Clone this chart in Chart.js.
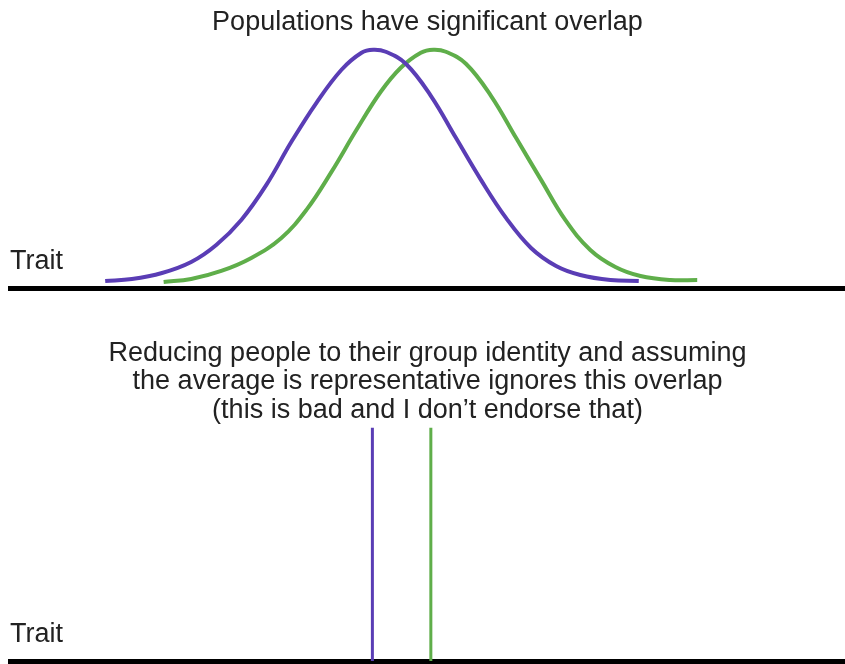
<!DOCTYPE html>
<html>
<head>
<meta charset="utf-8">
<title>Populations have significant overlap</title>
<script src="https://cdn.jsdelivr.net/npm/chart.js@4"></script>
<style>
    html, body { margin: 0; padding: 0; background: #fff; }
    .panel { position: relative; width: 845px; }
    #top-panel { height: 300px; }
    #bottom-panel { height: 364px; }
</style>
</head>
<body>
<div class="panel" id="top-panel"><canvas id="overlap-chart"></canvas></div>
<div class="panel" id="bottom-panel"><canvas id="average-chart"></canvas></div>
<script>
// Trait axis runs 0..100, frequency is in arbitrary units (0 = baseline)
const purpleTrait = [11.4, 14.6, 18.2, 21.7, 24.7, 27.7, 30.7, 33.7, 36.7, 39.7, 42.1, 43.5,
    45.0, 47.4, 50.4, 53.4, 56.4, 59.4, 62.4, 65.4, 68.3, 71.9, 75.3];
const purpleFreq = [7, 9, 15, 26, 43, 68, 103, 146, 185, 218, 235, 238,
    236, 224, 192, 150, 108, 70, 40, 22, 13, 8, 7];

const greenTrait = [18.4, 21.7, 25.3, 28.9, 32.5, 35.5, 38.5, 41.5, 44.4, 46.8, 49.2, 50.7,
    52.2, 54.6, 57.6, 60.6, 63.6, 66.5, 69.5, 72.5, 75.5, 79.1, 82.3];
const greenFreq = [6, 9, 17, 30, 50, 78, 116, 158, 196, 220, 235, 238,
    236, 224, 192, 150, 108, 68, 38, 21, 12, 8, 8];

// group averages shown in the lower panel
const groupMeans = [43.4, 50.4];
const groupColors = ['#5a3db5', '#5fae4a'];

const topTitle = 'Populations have significant overlap';
const bottomTitle = [
    'Reducing people to their group identity and assuming',
    'the average is representative ignores this overlap',
    '(this is bad and I don\u2019t endorse that)'
];
const axisLabel = 'Trait';

const FONT = '"Liberation Sans", Arial, Helvetica, sans-serif';
const TEXT_COLOR = '#222';

Chart.defaults.font.family = FONT;
Chart.defaults.color = TEXT_COLOR;

// writes "Trait" just above the baseline on the left
const traitLabel = {
    id: 'traitLabel',
    afterDraw(chart) {
        const ctx = chart.ctx;
        const area = chart.chartArea;
        ctx.save();
        ctx.font = '27px ' + FONT;
        ctx.fillStyle = TEXT_COLOR;
        ctx.textAlign = 'left';
        ctx.textBaseline = 'alphabetic';
        ctx.fillText(axisLabel, area.left, area.bottom - 19);
        ctx.restore();
    }
};

function toPoints(xs, ys) {
    return xs.map((x, i) => ({ x: x, y: ys[i] }));
}

function baseScales(yMax) {
    return {
        x: {
            type: 'linear',
            min: 0,
            max: 100,
            display: true,
            grid: { display: false, drawTicks: false },
            ticks: { display: false },
            border: { display: true, color: '#000', width: 5 }
        },
        y: {
            type: 'linear',
            min: 0,
            max: yMax,
            display: false
        }
    };
}

function initOverlapChart() {
    const ctx = document.getElementById('overlap-chart').getContext('2d');
    window.overlapChart = new Chart(ctx, {
        type: 'line',
        data: {
            datasets: [
                {
                    label: 'Group A',
                    data: toPoints(purpleTrait, purpleFreq),
                    borderColor: groupColors[0],
                    borderWidth: 4,
                    pointRadius: 0,
                    tension: 0.4,
                    fill: false
                },
                {
                    label: 'Group B',
                    data: toPoints(greenTrait, greenFreq),
                    borderColor: groupColors[1],
                    borderWidth: 4,
                    pointRadius: 0,
                    tension: 0.4,
                    fill: false
                }
            ]
        },
        options: {
            responsive: true,
            maintainAspectRatio: false,
            animation: false,
            layout: { padding: { left: 10, right: 0, top: 0, bottom: 12 } },
            plugins: {
                legend: { display: false },
                tooltip: { enabled: false },
                title: {
                    display: true,
                    text: topTitle,
                    color: TEXT_COLOR,
                    font: { size: 27, weight: 'normal', lineHeight: 1.1 },
                    padding: { top: 8, bottom: 0 }
                }
            },
            scales: baseScales(250)
        },
        plugins: [traitLabel]
    });
}

function initAverageChart() {
    const ctx = document.getElementById('average-chart').getContext('2d');
    window.averageChart = new Chart(ctx, {
        type: 'line',
        data: {
            datasets: groupMeans.map((m, i) => ({
                label: i === 0 ? 'Group A average' : 'Group B average',
                data: [{ x: m, y: 0 }, { x: m, y: 1 }],
                borderColor: groupColors[i],
                borderWidth: 3,
                pointRadius: 0,
                fill: false
            }))
        },
        options: {
            responsive: true,
            maintainAspectRatio: false,
            animation: false,
            layout: { padding: { left: 10, right: 0, top: 0, bottom: 3 } },
            plugins: {
                legend: { display: false },
                tooltip: { enabled: false },
                title: {
                    display: true,
                    text: bottomTitle,
                    color: TEXT_COLOR,
                    font: { size: 27, weight: 'normal', lineHeight: 1.055 },
                    padding: { top: 39, bottom: 3 }
                }
            },
            scales: baseScales(1)
        },
        plugins: [traitLabel]
    });
}

initOverlapChart();
initAverageChart();
</script>
</body>
</html>
